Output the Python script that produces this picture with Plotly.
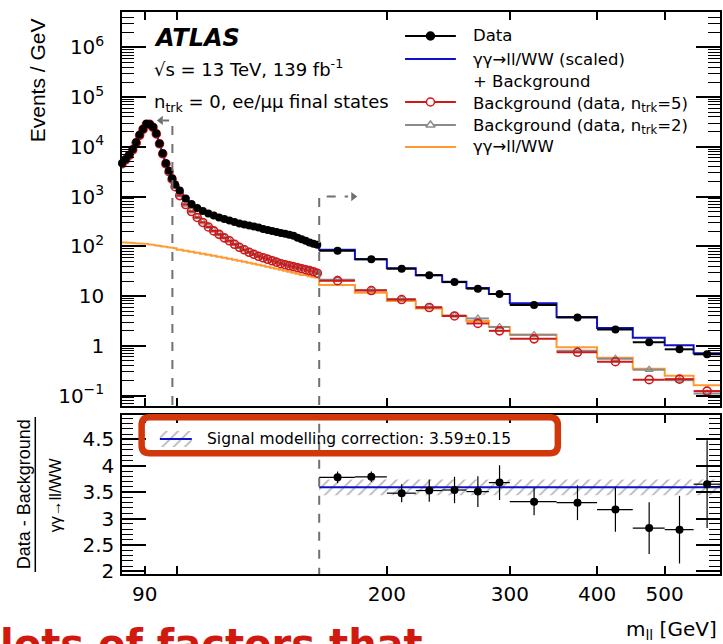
import math
import plotly.graph_objects as go

# ---------------- data ----------------
# variable binning in m_ll [GeV]
edges = list(range(83, 101)) + list(range(102, 161, 2)) + list(range(180, 301, 20)) + list(range(350, 601, 50))

data_vals = [4680, 5620, 6920, 8910, 12300, 17400, 22900, 29000, 28500, 25100, 18600, 11700, 7410, 4680, 3310, 2340, 1740,
             1318, 912, 708, 589, 513, 457, 417, 380, 355, 331, 309, 288, 275, 263, 251, 240, 224, 214, 204, 195,
             186, 178, 170, 163, 148, 138, 129, 120, 112, 107,
             81.3, 55.0, 35.5, 26.3, 19.1, 14.1, 11.0, 6.61, 3.72, 2.14, 1.175, 0.851, 0.676]

model_vals = [4790, 5750, 7080, 9120, 12300, 17400, 22900, 28800, 28800, 25100, 18600, 12000, 7590, 4900, 3470, 2510, 1860,
              1318, 933, 724, 603, 525, 468, 417, 380, 355, 331, 309, 288, 269, 257, 245, 234, 224, 214, 204, 195,
              186, 178, 170, 162, 155, 145, 135, 126, 117, 110,
              85.1, 55.0, 36.3, 26.3, 19.5, 14.5, 11.0, 7.16, 3.80, 2.29, 1.445, 1.023, 0.708]

bkg5_vals = [4570, 5500, 6760, 8710, 12000, 17000, 22400, 28200, 28200, 24500, 18200, 11500, 7240, 4570, 3160, 2240, 1580,
             1047, 692, 501, 380, 302, 245, 204, 174, 148, 129, 110, 95.5, 85.1, 75.9, 69.2, 63.1, 58.9, 55.0, 51.3,
             47.9, 44.7, 42.7, 40.7, 38.9, 37.2, 35.5, 33.9, 32.4, 30.9, 28.8,
             20.4, 12.9, 8.51, 5.89, 3.98, 2.82, 2.00, 1.38, 0.741, 0.479, 0.209, 0.214, 0.123]

bkg2_vals = [4600, 5450, 6800, 8650, 12100, 16900, 22600, 28000, 28400, 24300, 18400, 11400, 7300, 4500, 3200, 2200, 1600,
             1070, 700, 510, 390, 305, 250, 208, 178, 152, 131, 113, 98, 87, 78, 71, 65, 61, 57, 53, 50,
             46.5, 44, 42, 40.5, 38.5, 36.5, 35, 33.5, 31.5, 29.5,
             21.4, 13.2, 8.71, 6.03, 4.07, 3.55, 2.40, 1.66, 0.794, 0.550, 0.331, 0.204, 0.110]

signal_vals = [120, 120, 117, 117, 115, 115, 112, 112, 110, 107, 105, 102, 100, 97.7, 95.5, 93.3, 91.2,
               85.1, 81.3, 77.6, 74.1, 70.8, 67.6, 64.6, 61.7, 58.9, 56.2, 53.7, 51.3, 49.0, 46.8, 44.7, 42.7,
               40.7, 38.9, 37.2, 35.5, 33.9, 32.4, 30.9, 29.5, 28.2, 26.9, 26.3, 25.1, 24.0, 23.4,
               16.6, 11.7, 7.94, 5.62, 3.98, 3.16, 2.40, 1.66, 0.933, 0.575, 0.347, 0.251, 0.162]

# ratio panel (bins above 160 GeV)
ratio_vals = [3.78, 3.79, 3.48, 3.53, 3.54, 3.51, 3.68, 3.32, 3.30, 3.17, 2.82, 2.79, 3.65]
ratio_err = [0.11, 0.10, 0.17, 0.21, 0.25, 0.29, 0.33, 0.26, 0.33, 0.42, 0.49, 0.64, 0.83]
sf, sf_err = 3.59, 0.15

cut_low, cut_high = 98.6, 160
arrow_low_y, arrow_high_y = 3.4e4, 1000

top_tickvals = [0.1, 1, 10, 100, 1e3, 1e4, 1e5, 1e6]
top_ticktext = ['10<sup>−1</sup>', '1', '10', '10<sup>2</sup>', '10<sup>3</sup>', '10<sup>4</sup>', '10<sup>5</sup>', '10<sup>6</sup>']
x_tickvals = [90, 200, 300, 400, 500]
x_ticktext = ['90', '200', '300', '400', '500']
x_minorvals = [100]
r_tickvals = [2, 2.5, 3, 3.5, 4, 4.5]
r_ticktext = ['2', '2.5', '3', '3.5', '4', '4.5']

# ---------------- style ----------------
BLACK = '#000000'
BLUE = '#1010C8'
RED = '#D01818'
GRAY = '#8A8A8A'
ORANGE = '#FF9A30'
FONT = 'DejaVu Sans'

X_MIN, X_MAX = 83.5, 600
L, R, T, B = 122, 722, 12, 574


def px(x):
    return (x - L) / (R - L)


def py(y):
    return (B - y) / (B - T)


centers = [(a + b) / 2 for a, b in zip(edges[:-1], edges[1:])]
err_hi = [b - c for b, c in zip(edges[1:], centers)]
err_lo = [c - a for a, c in zip(edges[:-1], centers)]
n_fine = sum(1 for e in edges[1:] if e <= cut_high)


def steps(vals, floor):
    xs, ys = [edges[0]], [floor]
    for i, v in enumerate(vals):
        xs += [edges[i], edges[i + 1]]
        ys += [v, v]
    return xs, ys


HATCH = dict(shape='/', fgcolor='#6E6E6E', bgcolor='rgba(0,0,0,0)', size=8, solidity=0.22)

fig = go.Figure()

# --- top panel ---
xs, ys = steps(signal_vals, 1e-3)
fig.add_trace(go.Scatter(x=xs, y=ys, mode='lines', line=dict(color=ORANGE, width=2), xaxis='x', yaxis='y'))
xs, ys = steps(model_vals, 1e-3)
fig.add_trace(go.Scatter(x=xs, y=ys, mode='lines', line=dict(color=BLUE, width=2), xaxis='x', yaxis='y'))

# gray triangles with horizontal bars
fig.add_trace(go.Scatter(x=centers, y=bkg2_vals, mode='markers',
                         marker=dict(symbol='triangle-up-open', size=7, color=GRAY, line=dict(color=GRAY, width=1.2)),
                         error_x=dict(type='data', symmetric=False, array=err_hi, arrayminus=err_lo,
                                      color=GRAY, thickness=2, width=0),
                         xaxis='x', yaxis='y'))
# red open circles
fig.add_trace(go.Scatter(x=centers, y=bkg5_vals, mode='markers',
                         marker=dict(symbol='circle-open', size=8, color=RED, line=dict(color=RED, width=1.6)),
                         error_x=dict(type='data', symmetric=False, array=err_hi, arrayminus=err_lo,
                                      color=RED, thickness=2, width=0),
                         xaxis='x', yaxis='y'))
# data
fig.add_trace(go.Scatter(x=centers, y=data_vals, mode='markers', cliponaxis=False,
                         marker=dict(symbol='circle', size=8, color=BLACK),
                         error_x=dict(type='data', symmetric=False, array=err_hi, arrayminus=err_lo,
                                      color=BLACK, thickness=2, width=0),
                         xaxis='x', yaxis='y'))

# cut arrows (top panel)
fig.add_trace(go.Scatter(x=[cut_low, cut_low, 95.6], y=[1e-3, arrow_low_y, arrow_low_y], mode='lines',
                         line=dict(color='#707070', width=2, dash='dash'), xaxis='x', yaxis='y'))
fig.add_trace(go.Scatter(x=[94.9], y=[arrow_low_y], mode='markers',
                         marker=dict(symbol='triangle-left', size=8, color='#707070'), xaxis='x', yaxis='y'))
fig.add_trace(go.Scatter(x=[cut_high, cut_high, 176], y=[1e-3, arrow_high_y, arrow_high_y], mode='lines',
                         line=dict(color='#707070', width=2, dash='dash'), xaxis='x', yaxis='y'))
fig.add_trace(go.Scatter(x=[179], y=[arrow_high_y], mode='markers',
                         marker=dict(symbol='triangle-right', size=8, color='#707070'), xaxis='x', yaxis='y'))

# --- ratio panel ---
fig.add_trace(go.Scatter(x=[cut_high, X_MAX, X_MAX, cut_high],
                         y=[sf - sf_err, sf - sf_err, sf + sf_err, sf + sf_err],
                         fill='toself', mode='lines', line=dict(width=0, color='rgba(0,0,0,0)'),
                         fillcolor='rgba(0,0,0,0)', fillpattern=HATCH,
                         xaxis='x2', yaxis='y2'))
fig.add_trace(go.Scatter(x=[cut_high, X_MAX], y=[sf, sf], mode='lines', line=dict(color=BLUE, width=2),
                         xaxis='x2', yaxis='y2'))
fig.add_trace(go.Scatter(x=[cut_high, cut_high], y=[1.9, 5.0], mode='lines',
                         line=dict(color='#707070', width=2, dash='dash'), xaxis='x2', yaxis='y2'))
rc = centers[n_fine:]
fig.add_trace(go.Scatter(x=rc, y=ratio_vals, mode='markers', cliponaxis=False,
                         marker=dict(symbol='circle', size=8, color=BLACK),
                         error_x=dict(type='data', symmetric=False, array=err_hi[n_fine:], arrayminus=err_lo[n_fine:],
                                      color=BLACK, thickness=1.2, width=0),
                         error_y=dict(type='data', array=ratio_err, color=BLACK, thickness=1.2, width=0),
                         xaxis='x2', yaxis='y2'))

# --- legend glyphs on pixel overlay axes ---
leg_rows = [(36, BLACK, 'circle', BLACK), (59, BLUE, None, None), (102, RED, 'circle', 'white'),
            (125, GRAY, 'triangle-up', 'white'), (147, ORANGE, None, None)]
for yrow, col, sym, fillc in leg_rows:
    fig.add_trace(go.Scatter(x=[406, 457], y=[yrow, yrow], mode='lines', line=dict(color=col, width=2),
                             xaxis='x3', yaxis='y3'))
    if sym:
        fig.add_trace(go.Scatter(x=[431.5], y=[yrow], mode='markers',
                                 marker=dict(symbol=sym, size=8, color=fillc, line=dict(color=col, width=1.5)),
                                 xaxis='x3', yaxis='y3'))
fig.add_trace(go.Scatter(x=[160, 192, 192, 160], y=[431, 431, 447, 447], fill='toself', mode='lines',
                         line=dict(width=0, color='rgba(0,0,0,0)'), fillcolor='rgba(0,0,0,0)',
                         fillpattern=HATCH, xaxis='x3', yaxis='y3'))
fig.add_trace(go.Scatter(x=[160, 192], y=[439, 439], mode='lines', line=dict(color=BLUE, width=2),
                         xaxis='x3', yaxis='y3'))

# ---------------- axes ----------------
axis_common = dict(showgrid=False, zeroline=False, linecolor=BLACK, linewidth=1.5, mirror='ticks',
                   ticks='inside', tickcolor=BLACK, tickfont=dict(family=FONT, size=20, color=BLACK))
xr = [math.log10(X_MIN), math.log10(X_MAX)]
top_minor = [m * 10 ** e for e in range(-2, 7) for m in range(2, 10)]
rat_minor = [round(1.9 + 0.1 * i, 2) for i in range(32)]
x_minor = dict(tickmode='array', tickvals=x_minorvals, ticks='inside', ticklen=8, tickcolor=BLACK, tickwidth=1.5)

fig.update_layout(
    width=723, height=644,
    margin=dict(l=L, r=723 - R, t=T, b=644 - B),
    paper_bgcolor='white', plot_bgcolor='rgba(0,0,0,0)',
    showlegend=False,
    font=dict(family=FONT, color=BLACK),
    xaxis=dict(axis_common, type='log', range=xr, domain=[0, 1], anchor='y',
               tickmode='array', tickvals=x_tickvals, ticktext=x_ticktext, ticklen=8, tickwidth=1.5,
               showticklabels=False, minor=x_minor),
    xaxis2=dict(axis_common, type='log', range=xr, domain=[0, 1], anchor='y2', matches='x',
                tickmode='array', tickvals=x_tickvals, ticktext=x_ticktext, ticklen=8, tickwidth=1.5,
                ticklabelstandoff=1, minor=x_minor),
    yaxis=dict(axis_common, type='log', range=[-1.21, 6.71], domain=[0.2989, 1], anchor='x',
               tickmode='array', tickvals=top_tickvals, ticktext=top_ticktext, ticklen=24, tickwidth=1.5,
               ticklabelstandoff=12,
               minor=dict(tickmode='array', tickvals=top_minor, ticks='inside', ticklen=12, tickcolor=BLACK,
                          tickwidth=1)),
    yaxis2=dict(axis_common, range=[1.95, 4.96], domain=[0, 0.2829], anchor='x2',
                tickmode='array', tickvals=r_tickvals, ticktext=r_ticktext, ticklen=24, tickwidth=1.5,
                ticklabelstandoff=2,
                minor=dict(tickmode='array', tickvals=rat_minor, ticks='inside', ticklen=11, tickcolor=BLACK,
                           tickwidth=1)),
    xaxis3=dict(range=[L, R], domain=[0, 1], anchor='y3', visible=False, fixedrange=True),
    yaxis3=dict(range=[B, T], domain=[0, 1], anchor='x3', visible=False, fixedrange=True),
)

# ---------------- text ----------------
ann = []


def add_text(x, y, text, size=18, xanchor='left', yanchor='middle', family=FONT, color=BLACK, angle=0):
    ann.append(dict(x=px(x), y=py(y), xref='paper', yref='paper', text=text, showarrow=False,
                    xanchor=xanchor, yanchor=yanchor, textangle=angle,
                    font=dict(family=family, size=size, color=color)))


add_text(152, 38, '<b><i>ATLAS</i></b>', size=24)
add_text(152, 68, '√s = 13 TeV, 139 fb<sup>-1</sup>', size=18)
add_text(152, 103, 'n<sub>trk</sub> = 0, ee/μμ final states', size=18)

add_text(472, 36, 'Data', size=16.5)
add_text(472, 59, 'γγ→ll/WW (scaled)', size=16.5)
add_text(472, 81, '+ Background', size=16.5)
add_text(472, 104, 'Background (data, n<sub>trk</sub>=5)', size=16.5)
add_text(472, 127, 'Background (data, n<sub>trk</sub>=2)', size=16.5)
add_text(472, 147, 'γγ→ll/WW', size=16.5)

add_text(205, 439, 'Signal modelling correction: 3.59±0.15', size=15.5)

add_text(37, 80, 'Events / GeV', size=21, xanchor='center', family='Liberation Sans', angle=-90)
add_text(24, 494, 'Data - Background', size=18, xanchor='center', family='Liberation Sans', angle=-90)
add_text(55, 495, 'γγ→ll/WW', size=16, xanchor='center', family='Liberation Sans', angle=-90)
add_text(721, 630, 'm<sub>ll</sub> [GeV]', size=20, xanchor='right')

add_text(-2, 619, '<b>lots of factors that</b>', size=40, yanchor='top', color='#D01A10')

fig.update_layout(annotations=ann)

# ---------------- shapes ----------------
shapes = []
shapes.append(dict(type='line', xref='paper', yref='paper', x0=px(35), x1=px(35), y0=py(417), y1=py(572),
                   line=dict(color=BLACK, width=1.5)))
x0, x1, y0, y1, r = 141.7, 559.3, 417.3, 453.3, 8
path = (f"M {px(x0 + r)},{py(y0)} L {px(x1 - r)},{py(y0)} Q {px(x1)},{py(y0)} {px(x1)},{py(y0 + r)} "
        f"L {px(x1)},{py(y1 - r)} Q {px(x1)},{py(y1)} {px(x1 - r)},{py(y1)} "
        f"L {px(x0 + r)},{py(y1)} Q {px(x0)},{py(y1)} {px(x0)},{py(y1 - r)} "
        f"L {px(x0)},{py(y0 + r)} Q {px(x0)},{py(y0)} {px(x0 + r)},{py(y0)} Z")
shapes.append(dict(type='path', xref='paper', yref='paper', path=path, line=dict(color='#D0380C', width=6.5)))
fig.update_layout(shapes=shapes)

fig.write_html("out.html", config={'displayModeBar': False},
               post_script="document.body.style.margin='0px';")
